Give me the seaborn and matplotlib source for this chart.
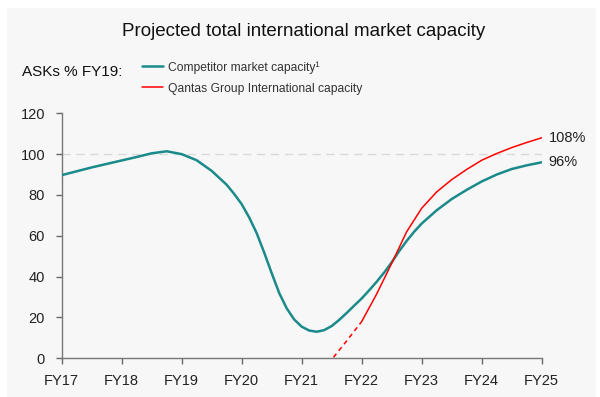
import matplotlib
matplotlib.use("Agg")
import matplotlib.pyplot as plt
from matplotlib.patches import Rectangle
import pandas as pd
import seaborn as sns

# financial years on the axis, position 0..8
years = ["FY17", "FY18", "FY19", "FY20", "FY21", "FY22", "FY23", "FY24", "FY25"]

# competitor market capacity, ASKs % of FY19
comp_fy = [0, 0.25, 0.5, 0.75, 1.0, 1.25, 1.5, 1.75, 2.0, 2.25, 2.5, 2.75,
           2.875, 3.0, 3.125, 3.25, 3.375, 3.5, 3.625, 3.75, 3.875, 4.0,
           4.125, 4.25, 4.375, 4.5, 4.625, 4.75, 4.875, 5.0, 5.125, 5.25,
           5.375, 5.5, 5.625, 5.75, 5.875, 6.0, 6.25, 6.5, 6.75, 7.0, 7.25,
           7.5, 7.75, 8.0]
comp_val = [89.7, 91.6, 93.5, 95.2, 96.9, 98.6, 100.4, 101.4, 100.0, 97.0,
            91.8, 85.0, 80.5, 75.5, 69.0, 61.3, 51.8, 41.7, 32.0, 24.5,
            19.0, 15.5, 13.6, 13.0, 13.8, 15.8, 18.8, 22.2, 25.8, 29.3,
            33.3, 37.5, 42.0, 47.0, 52.5, 57.5, 62.0, 66.0, 72.5, 78.0,
            82.5, 86.6, 90.0, 92.7, 94.5, 96.0]

# Qantas Group international capacity (projected start dashed)
qf_dash_fy = [4.53, 4.75, 5.0]
qf_dash_val = [0.5, 8.5, 18.0]
qf_fy = [5.0, 5.25, 5.5, 5.75, 6.0, 6.25, 6.5, 6.75, 7.0, 7.25, 7.5, 7.75, 8.0]
qf_val = [18.0, 31.5, 46.5, 62.0, 73.5, 81.5, 87.5, 92.5, 97.0, 100.3,
          103.2, 105.7, 108.0]

end_labels = ["108%", "96%"]

TEAL = "#1a8a8a"
RED = "#ff0000"
PANEL = "#f7f7f7"

sns.set_style("ticks")
plt.rcParams["font.family"] = ["Liberation Sans", "DejaVu Sans"]

fig = plt.figure(figsize=(6, 3.97), dpi=100, facecolor="white")
fig.add_artist(Rectangle((7 / 600, 0), 589 / 600, 389 / 397,
                         transform=fig.transFigure, facecolor=PANEL,
                         edgecolor="none", zorder=0))
ax = fig.add_axes([0.1028, 0.0975, 0.8, 0.6171])
ax.set_facecolor(PANEL)

comp = pd.DataFrame({"fy": comp_fy, "val": comp_val})
qf = pd.DataFrame({"fy": qf_fy, "val": qf_val})
qf_dash = pd.DataFrame({"fy": qf_dash_fy, "val": qf_dash_val})

ax.axhline(100, color="#d9d9d9", lw=1, dashes=(6, 4), zorder=1)
sns.lineplot(data=comp, x="fy", y="val", ax=ax, color=TEAL, lw=1.8,
             label="Competitor market capacity\u00b9", zorder=3)
sns.lineplot(data=qf, x="fy", y="val", ax=ax, color=RED, lw=1.1,
             label="Qantas Group International capacity", zorder=4)
sns.lineplot(data=qf_dash, x="fy", y="val", ax=ax, color=RED, lw=1.1,
             zorder=4)
ax.lines[-1].set_dashes((3, 2.5))
for ln in ax.lines:
    ln.set_solid_joinstyle("round")

ax.annotate(end_labels[0], xy=(8, qf_val[-1]), xytext=(5, 0),
            textcoords="offset points", va="center", ha="left",
            fontsize=10.5, color="#222222")
ax.annotate(end_labels[1], xy=(8, comp_val[-1]), xytext=(5, 0),
            textcoords="offset points", va="center", ha="left",
            fontsize=10.5, color="#222222")

ax.set_xlim(0, 8)
ax.set_ylim(0, 120)
ax.set_xticks(range(len(years)))
ax.set_xticklabels(years)
ax.set_yticks(range(0, 121, 20))
ax.set_xlabel("")
ax.set_ylabel("")
ax.tick_params(axis="x", length=4, width=1, color="#666666", pad=7,
               labelsize=10.5, labelcolor="#222222")
ax.tick_params(axis="y", length=4, width=1, color="#666666", pad=8,
               labelsize=10.5, labelcolor="#222222")
sns.despine(ax=ax)
for side in ["left", "bottom"]:
    ax.spines[side].set_color("#777777")
    ax.spines[side].set_linewidth(1)

leg = ax.legend(loc="upper left", bbox_to_anchor=(136 / 600, 1 - 55 / 397),
                bbox_transform=fig.transFigure, frameon=False, borderpad=0,
                handlelength=1.75, handletextpad=0.4, labelspacing=0.75,
                prop={"size": 8.7})
for t in leg.get_texts():
    t.set_color("#333333")

fig.text(0.506, 1 - 32 / 397, "Projected total international market capacity",
         ha="center", va="center", fontsize=13.5, color="#111111")
fig.text(22 / 600, 1 - 72 / 397, "ASKs % FY19:", ha="left", va="center",
         fontsize=11, color="#111111")

fig.savefig("out.png", dpi=100, facecolor="white")
